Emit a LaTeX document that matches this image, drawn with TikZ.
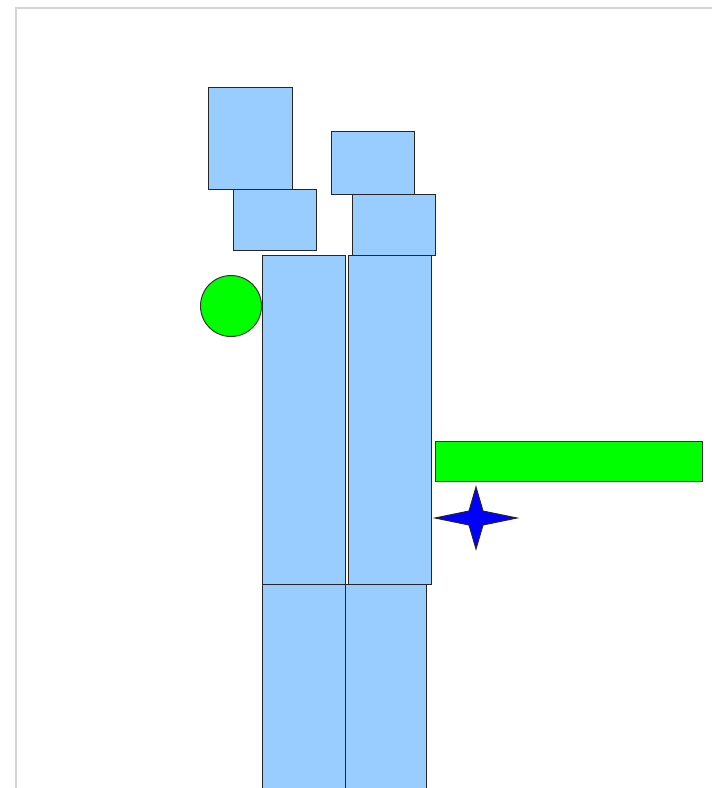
\documentclass[tikz,border=0pt]{standalone}
\usepackage{tikz}

\definecolor{paleblue}{RGB}{153,204,255}
\definecolor{framegray}{RGB}{212,212,212}

\begin{document}
\begin{tikzpicture}[x=1pt,y=-1pt,
		block/.style={draw=black!85,fill=paleblue,line width=1pt},
		bar/.style={draw=black!80,fill=green,line width=1pt}]
			\useasboundingbox (0,0) rectangle (712,788);
			\clip (0,0) rectangle (712,788);
			\draw[framegray,line width=1.5pt] (16,790) -- (16,8) -- (714,8);
			% lower pair
			\draw[block] (262,584) rectangle (345,792);
			\draw[block] (345,584) rectangle (426,792);
			% tall pair
			\draw[block] (262,255) rectangle (345,584);
			\draw[block] (348,255) rectangle (431,584);
			% top blocks
			\draw[block] (208,87) rectangle (292,189);
			\draw[block] (233,189) rectangle (316,250);
			\draw[block] (331,131) rectangle (414,194);
			\draw[block] (352,194) rectangle (435,255);
			% ball and bar
			\draw[bar] (231,306) circle (30.5);
			\draw[bar] (435,441) rectangle (702,481);
			% star
			\draw[draw=black!85,fill=blue,line width=1pt]
				(435,518) -- (469,511) -- (476,487) -- (483,511) -- (517,518)
				-- (483,525) -- (476,549) -- (469,525) -- cycle;
		\end{tikzpicture}
\end{document}
